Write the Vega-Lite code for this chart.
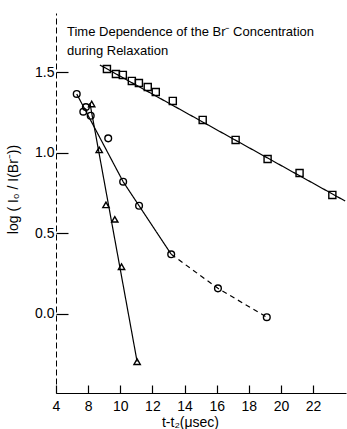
{
  "$schema": "https://vega.github.io/schema/vega-lite/v6.json",
  "width": 290,
  "height": 380,
  "autosize": "none",
  "padding": {"left": 56, "top": 13, "right": 1, "bottom": 36},
  "background": "white",
  "config": {
    "font": "Liberation Sans",
    "view": {"stroke": null},
    "axis": {"grid": false, "ticks": true, "tickWidth": 1.2, "tickOpacity": 1, "domainColor": "black", "tickColor": "black", "labelColor": "black", "titleColor": "black", "labelFont": "Liberation Sans", "titleFont": "Liberation Sans", "labelFontSize": 14, "titleFontSize": 14, "titleFontWeight": "normal"}
  },
  "title": {
    "text": ["Time Dependence of the Br\u207b Concentration", "during Relaxation"],
    "anchor": "start",
    "frame": "group",
    "orient": "top",
    "baseline": "top",
    "offset": -45,
    "dx": 11,
    "fontSize": 13,
    "fontWeight": "normal",
    "lineHeight": 19,
    "color": "black",
    "font": "Liberation Sans"
  },
  "datasets": {
    "points": [
      {"series": "square", "t": 9.17, "v": 1.519},
      {"series": "square", "t": 9.73, "v": 1.488},
      {"series": "square", "t": 10.16, "v": 1.482},
      {"series": "square", "t": 10.72, "v": 1.445},
      {"series": "square", "t": 11.16, "v": 1.432},
      {"series": "square", "t": 11.71, "v": 1.407},
      {"series": "square", "t": 12.21, "v": 1.376},
      {"series": "square", "t": 13.27, "v": 1.321},
      {"series": "square", "t": 15.13, "v": 1.203},
      {"series": "square", "t": 17.18, "v": 1.079},
      {"series": "square", "t": 19.17, "v": 0.961},
      {"series": "square", "t": 21.16, "v": 0.874},
      {"series": "square", "t": 23.2, "v": 0.738},
      {"series": "circle", "t": 7.29, "v": 1.364},
      {"series": "circle", "t": 7.7, "v": 1.254},
      {"series": "circle", "t": 7.86, "v": 1.283},
      {"series": "circle", "t": 8.16, "v": 1.229},
      {"series": "circle", "t": 9.25, "v": 1.089},
      {"series": "circle", "t": 10.18, "v": 0.82},
      {"series": "circle", "t": 11.17, "v": 0.671},
      {"series": "circle", "t": 13.17, "v": 0.37},
      {"series": "circle", "t": 16.08, "v": 0.159},
      {"series": "circle", "t": 19.12, "v": -0.02},
      {"series": "triangle-up", "t": 8.22, "v": 1.302},
      {"series": "triangle-up", "t": 8.69, "v": 1.017},
      {"series": "triangle-up", "t": 9.11, "v": 0.676},
      {"series": "triangle-up", "t": 9.66, "v": 0.587},
      {"series": "triangle-up", "t": 10.08, "v": 0.293},
      {"series": "triangle-up", "t": 11.05, "v": -0.296}
    ],
    "lines": [
      {"grp": "sq", "seg": "solid", "t": 8.73, "v": 1.544},
      {"grp": "sq", "seg": "solid", "t": 24.0, "v": 0.7},
      {"grp": "ci", "seg": "solid", "t": 7.29, "v": 1.364},
      {"grp": "ci", "seg": "solid", "t": 10.18, "v": 0.82},
      {"grp": "ci", "seg": "solid", "t": 11.17, "v": 0.671},
      {"grp": "ci", "seg": "solid", "t": 13.17, "v": 0.37},
      {"grp": "cd", "seg": "dashed", "t": 13.17, "v": 0.37},
      {"grp": "cd", "seg": "dashed", "t": 16.08, "v": 0.159},
      {"grp": "cd", "seg": "dashed", "t": 19.12, "v": -0.02},
      {"grp": "tr", "seg": "solid", "t": 8.11, "v": 1.308},
      {"grp": "tr", "seg": "solid", "t": 11.05, "v": -0.296}
    ]
  },
  "layer": [
    {
      "data": {"name": "lines"},
      "mark": {"type": "line", "color": "black", "strokeWidth": 1.2, "clip": true},
      "encoding": {
        "x": {
          "field": "t", "type": "quantitative",
          "scale": {"domain": [6, 24.05], "nice": false, "zero": false},
          "axis": {
            "values": [6, 8, 10, 12, 14, 16, 18, 20, 22],
            "tickCount": 30,
            "labelExpr": "datum.value == 6 ? '4' : datum.label",
            "format": "d",
            "title": "t-t\u2082(\u03bcsec)",
            "tickSize": -8,
            "labelPadding": 14,
            "labelOverlap": false,
            "labelFlush": false,
            "titleX": 134,
            "titleY": 29,
            "titleBaseline": "middle"
          }
        },
        "y": {
          "field": "v", "type": "quantitative",
          "scale": {"domain": [-0.49, 1.866], "nice": false, "zero": false},
          "axis": {
            "values": [0, 0.5, 1, 1.5],
            "tickCount": 30,
            "format": ".1f",
            "title": "log ( I\u2080 / I(Br\u207b))",
            "tickSize": -12,
            "labelPadding": 14,
            "labelOverlap": false,
            "titleY": 176,
            "titleX": -36,
            "domainDash": [6, 3]
          }
        },
        "detail": {"field": "grp"},
        "strokeDash": {
          "field": "seg", "type": "nominal",
          "scale": {"domain": ["solid", "dashed"], "range": [[1, 0], [5, 4]]},
          "legend": null
        }
      }
    },
    {
      "data": {"name": "points"},
      "mark": {"type": "point", "filled": false, "color": "black", "strokeWidth": 1.4, "opacity": 1},
      "encoding": {
        "x": {"field": "t", "type": "quantitative"},
        "y": {"field": "v", "type": "quantitative"},
        "shape": {
          "field": "series", "type": "nominal",
          "scale": {"domain": ["square", "circle", "triangle-up"], "range": ["square", "circle", "triangle-up"]},
          "legend": null
        },
        "size": {
          "field": "series", "type": "nominal",
          "scale": {"domain": ["square", "circle", "triangle-up"], "range": [50, 40, 60]},
          "legend": null
        }
      }
    },
    {
      "mark": {"type": "rule", "color": "#777777", "strokeDash": [3, 4], "strokeWidth": 1},
      "encoding": {"x": {"datum": 24.0}}
    }
  ]
}
